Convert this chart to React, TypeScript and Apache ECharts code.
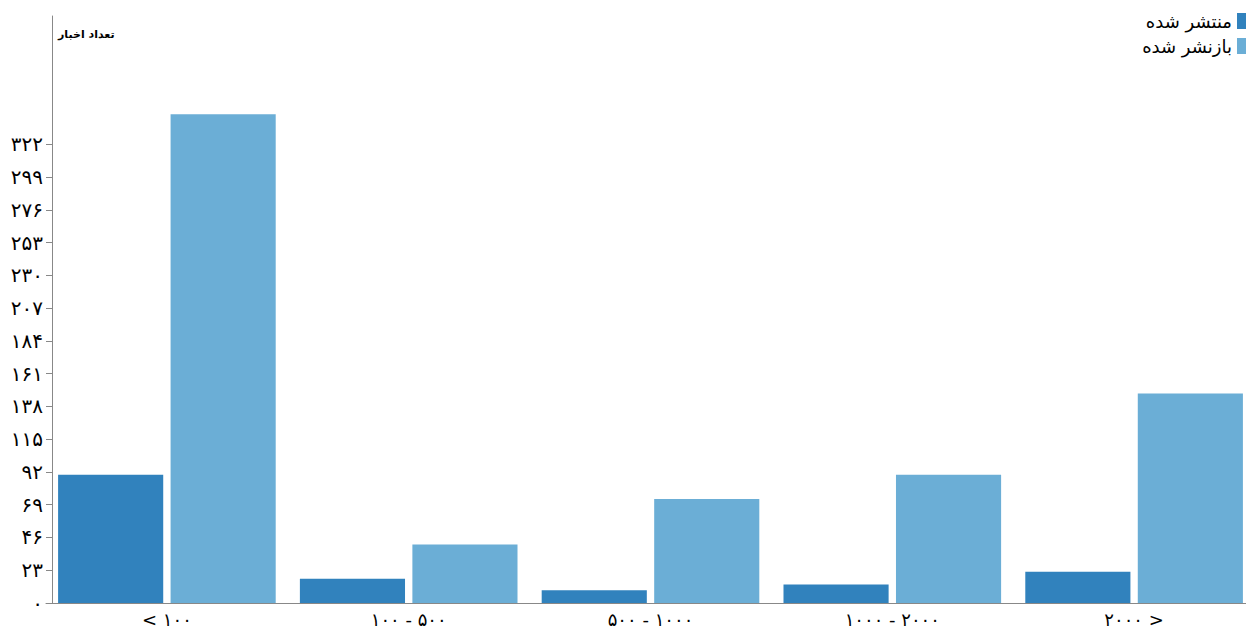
import React, { useEffect, useRef } from "react";
import * as echarts from "echarts";

const categories = ["< ۱۰۰", "۱۰۰ - ۵۰۰", "۵۰۰ - ۱۰۰۰", "۱۰۰۰ - ۲۰۰۰", "۲۰۰۰ >"];
const seriesNames = ["منتشر شده", "بازنشر شده"];
const publishedValues = [90, 17, 9, 13, 22];
const republishedValues = [343, 41, 73, 90, 147];
const yTickValues = [0, 23, 46, 69, 92, 115, 138, 161, 184, 207, 230, 253, 276, 299, 322];
const yAxisMax = 412;
const yAxisTitle = "تعداد اخبار";
const colors = ["#3182bd", "#6baed6"];

const persianDigits = "۰۱۲۳۴۵۶۷۸۹";
const toPersian = (v: number | string) =>
  String(v).replace(/[0-9]/g, (d) => persianDigits[Number(d)]);

const FONT = "DejaVu Sans";

export default function App() {
  const ref = useRef<HTMLDivElement>(null);
  useEffect(() => {
    document.body.style.margin = "0";
    if (!ref.current) return;
    const chart = echarts.init(ref.current, undefined, { renderer: "svg" });
    chart.setOption({
      animation: false,
      backgroundColor: "#ffffff",
      textStyle: { fontFamily: FONT },
      grid: { left: 46, right: 5, top: 16, bottom: 25, containLabel: false },
      legend: {
        data: seriesNames,
        orient: "vertical",
        right: 2,
        top: 7,
        align: "right",
        itemWidth: 16,
        itemHeight: 16,
        itemGap: 7,
        icon: "rect",
        textStyle: { fontSize: 18, color: "#000", fontFamily: FONT },
      },
      graphic: [
        {
          type: "text",
          left: 58,
          top: 29,
          style: {
            text: yAxisTitle,
            fontSize: 11,
            fontWeight: "bold",
            fill: "#000",
            fontFamily: FONT,
          },
        },
      ],
      xAxis: {
        type: "category",
        data: categories,
        axisLine: { lineStyle: { color: "#888", width: 1 } },
        axisTick: { alignWithLabel: true, length: 5, lineStyle: { color: "#888" } },
        axisLabel: { fontSize: 18, color: "#000", margin: 7, fontFamily: FONT },
        splitLine: { show: false },
      },
      yAxis: {
        type: "value",
        min: 0,
        max: yAxisMax,
        offset: -6,
        splitLine: { show: false },
        axisLine: { show: true, lineStyle: { color: "#888", width: 1 } },
        axisTick: {
          show: true,
          length: 6,
          lineStyle: { color: "#888" },
          customValues: yTickValues,
        },
        axisLabel: {
          fontSize: 20,
          color: "#000",
          margin: 9,
          fontFamily: FONT,
          customValues: yTickValues,
          formatter: (v: number) => toPersian(v),
        },
      },
      series: [
        {
          name: seriesNames[0],
          type: "bar",
          data: publishedValues,
          itemStyle: { color: colors[0] },
          barGap: "7%",
          barCategoryGap: "10%",
        },
        {
          name: seriesNames[1],
          type: "bar",
          data: republishedValues,
          itemStyle: { color: colors[1] },
          barGap: "7%",
          barCategoryGap: "10%",
        },
      ],
    });
    return () => chart.dispose();
  }, []);
  return (
    <div style={{ width: 1246, height: 628, overflow: "hidden", position: "relative" }}>
      <div ref={ref} style={{ width: 1260, height: 628 }} />
    </div>
  );
}
